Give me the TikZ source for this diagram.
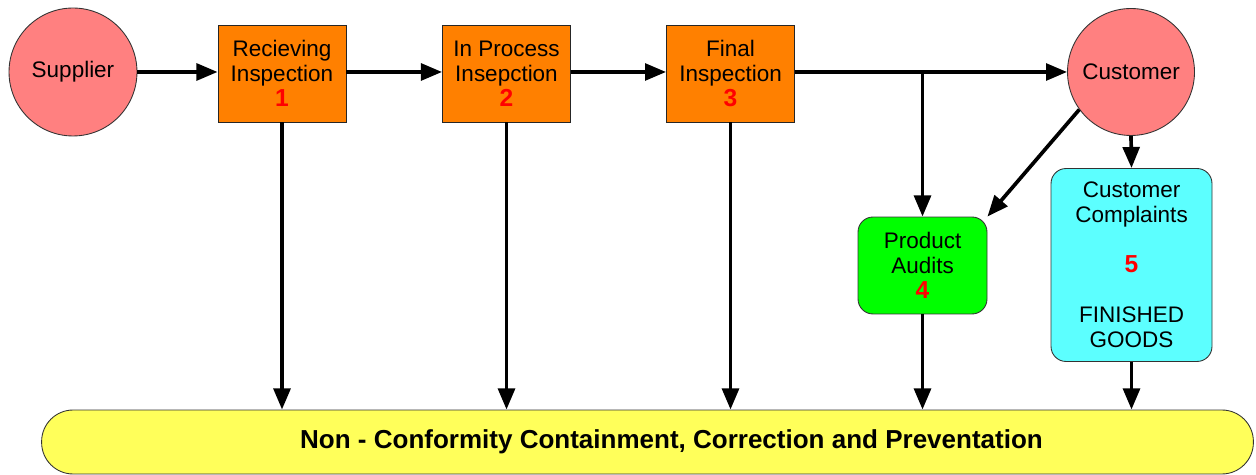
\documentclass[tikz,border=0pt]{standalone}
\usepackage{fontspec}
\setmainfont{Liberation Sans}
\usetikzlibrary{arrows.meta}
\definecolor{salmon}{HTML}{FF8080}
\definecolor{procorange}{HTML}{FF8000}
\definecolor{auditgreen}{HTML}{00FF00}
\definecolor{complaintcyan}{HTML}{5CFFFF}
\definecolor{baryellow}{HTML}{FFFF5A}
\newcommand{\stepnum}[1]{{\color{red}\fontsize{14}{14.2}\selectfont\bfseries #1}}
\begin{document}
\begin{tikzpicture}[x=0.02cm,y=-0.02cm,
  every node/.style={font=\fontsize{12.8}{14.2}\selectfont, align=center, inner sep=0pt},
  party/.style={circle, draw=black!80, line width=0.5pt, fill=salmon},
  stagebox/.style={rectangle, draw=black!85, line width=0.5pt, fill=procorange,
    minimum width=2.56cm, minimum height=1.94cm},
  roundbox/.style={rectangle, rounded corners=0.3cm, draw=black!80, line width=0.5pt},
  flow/.style={line width=2.1pt, -{Triangle[length=12pt,width=9.5pt]}}]
\useasboundingbox (0,0) rectangle (1256,475);

% sources and sinks
\node[party, minimum size=2.56cm] (sup) at (73,72) {Supplier};
\node[party, minimum size=2.54cm] (cust) at (1131,72) {Customer};

% inspection stages
\node[stagebox] (s1) at (282,73.5) {Recieving\\Inspection\\\stepnum{1}};
\node[stagebox] (s2) at (506.5,73.5) {In Process\\Insepction\\\stepnum{2}};
\node[stagebox] (s3) at (730.5,73.5) {Final\\Inspection\\\stepnum{3}};

% audit and complaint boxes
\node[roundbox, fill=auditgreen, minimum width=2.58cm, minimum height=1.94cm]
  (aud) at (922.5,265.5) {Product\\Audits\\\stepnum{4}};
\node[roundbox, fill=complaintcyan, minimum width=3.22cm, minimum height=3.86cm]
  (comp) at (1131.5,265) {Customer\\Complaints\\[14.2pt]\stepnum{5}\\[14.2pt]FINISHED\\GOODS};

% containment bar, caption set a little right of centre
\node[rectangle, rounded corners=0.63cm, draw=black!80, line width=0.5pt, fill=baryellow,
  minimum width=24.24cm, minimum height=1.28cm,
  font=\fontsize{14.8}{16}\selectfont\bfseries]
  (bar) at (647.5,442) {\hspace*{0.96cm}Non - Conformity Containment, Correction and Preventation};

% main flow
\draw[flow] (sup.east) -- (s1.west |- sup.east);
\draw[flow] (s1.east |- cust.west) -- (s2.west |- cust.west);
\draw[flow] (s2.east |- cust.west) -- (s3.west |- cust.west);
\draw[flow] (s3.east |- cust.west) -- (cust.west);
\coordinate (tap) at (aud.north |- cust.west);
\draw[flow] (tap) -- (aud.north);
\draw[flow] (cust.216) -- (aud.north east);
\draw[flow] (cust.south) -- (comp.north);

% drops into the containment bar
\draw[flow] (s1.south) -- (s1.south |- bar.north);
\draw[flow] (s2.south) -- (s2.south |- bar.north);
\draw[flow] (s3.south) -- (s3.south |- bar.north);
\draw[flow] (aud.south) -- (aud.south |- bar.north);
\draw[flow] (comp.south) -- (comp.south |- bar.north);
\end{tikzpicture}
\end{document}
